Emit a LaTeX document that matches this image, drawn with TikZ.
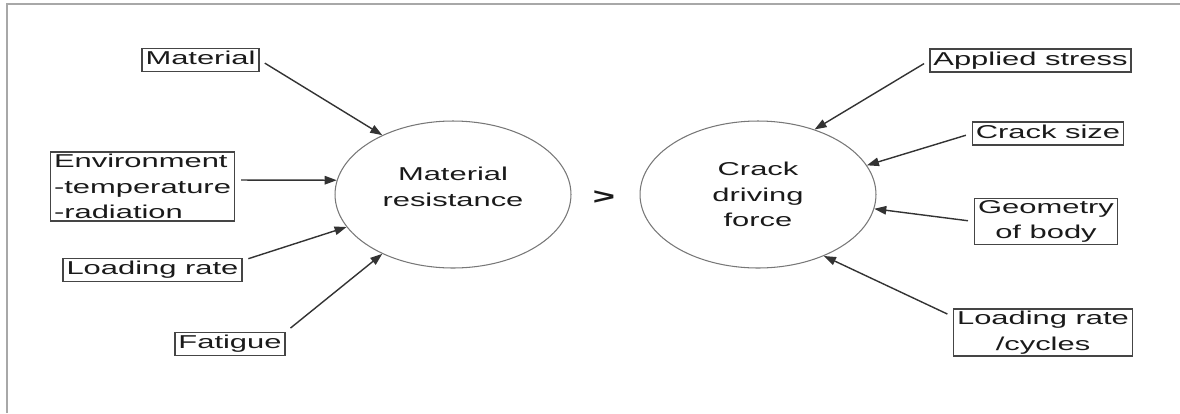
\documentclass[tikz,border=0pt]{standalone}
\usepackage{fontspec}
\usepackage{tikz}
\usetikzlibrary{shapes.geometric,arrows.meta}
\newfontfamily\widesans{Liberation Sans}[FakeStretch=1.66]

\begin{document}
\begin{tikzpicture}[x=0.02cm,y=-0.02cm,
  txt/.style={font=\widesans\fontsize{10.6}{14.5}\selectfont, text=txtDark},
  box/.style={txt, draw=boxGray, line width=0.8pt, inner xsep=2pt, inner ysep=1.2pt},
  boxone/.style={box, text height=8pt, text depth=2.6pt},
  blob/.style={txt, ellipse, draw=ellGray, line width=0.6pt, align=center,
    minimum width=4.72cm, minimum height=2.94cm, inner sep=0pt},
  arr/.style={draw=arrDark, line width=0.8pt, shorten <=0.12cm,
    -{Triangle[length=2.4mm,width=1.7mm]}}]

% Colours
\definecolor{txtDark}{HTML}{1A1A1A}
\definecolor{boxGray}{HTML}{454545}
\definecolor{ellGray}{HTML}{777777}
\definecolor{arrDark}{HTML}{333333}
\definecolor{frameGray}{HTML}{A8A8A8}

% Page and frame
\useasboundingbox (0,0) rectangle (1180,413);
\draw[frameGray, line width=1pt] (7,413) -- (7,4) -- (1180,4);

% The two sides
\node[blob] (mr) at (453,194.5) {Material\\resistance\\[-5.5pt]\mbox{}};
\node[blob] (cdf) at (758,194.5) {Crack\\driving\\force};
\node[txt, font=\widesans\bfseries\fontsize{13}{15}\selectfont] (gt) at (604,198) {>};

% Left side factors
\node[boxone] (mat) at (200.5,60) {Material};
\node[box, align=left] (env) at (142.5,186.5) {Environment\\-temperature\\-radiation};
\node[boxone] (lr) at (152.5,270) {Loading rate};
\node[boxone] (fat) at (230,344) {Fatigue};

% Right side factors
\node[boxone] (as) at (1030.5,60.5) {Applied stress};
\node[boxone] (cs) at (1048,133.5) {Crack size};
\node[box, align=center] (geo) at (1046,221.5) {Geometry\\of body};
\node[box, align=center] (lrc) at (1043,332.5) {Loading rate\\/cycles};

% Arrows into material resistance
\draw[arr] (mat.east) -- (mr.140);
\draw[arr] (env.4) -- (mr.173);
\draw[arr] (lr.6) -- (mr.197);
\draw[arr] (fat.north east) -- (mr.220);

% Arrows into crack driving force
\draw[arr] (as.west) -- (cdf.49);
\draw[arr] (cs.west) -- (cdf.15);
\draw[arr] (geo.west) -- (cdf.-7);
\draw[arr] (lrc.170) -- (cdf.-43);

\end{tikzpicture}
\end{document}
